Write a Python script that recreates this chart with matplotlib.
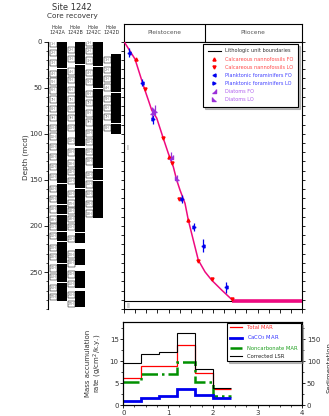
import numpy as np
import matplotlib.pyplot as plt
from matplotlib.patches import Rectangle
from matplotlib.lines import Line2D

# ---- age-depth model (Ma, mcd) ----
model_age = [0, 0.247, 0.456, 0.546, 0.622, 0.735, 0.883, 0.996, 1.108, 1.184,
             1.258, 1.371, 1.445, 1.557, 1.67, 1.82, 1.97, 2.196, 2.42]
model_depth = [0, 19, 50.8, 63.4, 74.3, 83, 105, 121.3, 135.8, 150.2,
               161, 175.5, 193.6, 215.3, 237, 249.7, 258.7, 269.5, 279.6]
unit_boundary = 281.0
epoch_boundary = 1.81

# ---- biostratigraphic datums ----
nanno_fo_age = [0.26, 1.02, 1.445]
nanno_fo_depth = [19.3, 125.5, 193.6]
nanno_lo_age = [0.47, 0.883, 1.085, 1.243, 1.67, 1.97, 2.43]
nanno_lo_depth = [51.9, 105, 131.5, 171.0, 237.5, 258, 279.6]

foram_fo_age = [0.112, 0.41, 1.78, 2.29]
foram_fo_depth = [12.2, 44.7, 221.5, 266.6]
foram_fo_err = [5, 4, 7, 6]
foram_lo_age = [0.66, 1.31, 1.57]
foram_lo_depth = [84.4, 171.0, 200.9]
foram_lo_err = [5, 4.5, 4]

diatom_fo_age = [0.62, 1.056]
diatom_fo_depth = [76.5, 125.0]
diatom_fo_err = [6, 5.5]
diatom_lo_age = [0.70, 1.18]
diatom_lo_depth = [74.3, 148.4]
diatom_lo_err = [5, 4]

# ---- core recovery (mcd) ----
holeA_black = [(0, 29), (29.8, 153), (154, 176), (177, 187), (188, 205),
               (206, 216), (217, 240), (241, 261), (262, 281.5)]
holeA_first = 1
holeA_centers = [2.5, 12.7, 23.5, 35, 43.5, 53, 63, 73, 83, 94, 103, 114, 125,
                 136, 147, 160, 171, 182, 193, 201, 211, 224, 234, 246, 255, 267, 277]
holeB_black = [(0, 24), (25, 113), (115, 159), (160, 207), (208, 218.5),
               (225, 242), (249, 267), (271, 288)]
holeB_first = 2
holeB_centers = [9, 19, 32.6, 42, 52.5, 63, 73, 83, 94, 107.6, 120.3, 132.3, 141.3,
                 151, 165.6, 175.7, 183.7, 192.8, 201, 214.5, 231, 240.6, 252.5,
                 263, 274.5, 284.5]
holeC_black = [(0, 27), (28, 50), (51, 137), (138, 150), (151, 191)]
holeC_first = 1
holeC_centers = [2, 10.5, 20.6, 34.4, 44, 57, 67, 78, 87.7, 99.7, 108.7, 120, 130,
                 144.6, 155, 165.6, 176, 186.6]
holeD_black = [(13.4, 55), (56, 88), (89, 100)]
holeD_first = 1
holeD_centers = [20, 30.8, 40.6, 50, 62, 72, 81.5, 94]
hole_names = ['1242A', '1242B', '1242C', '1242D']

# ---- mass accumulation rates ----
bin_edges = [0, 0.4, 0.8, 1.2, 1.6, 2.0, 2.4]
total_mar = [6.2, 8.8, 9.0, 13.6, 7.4, 3.7]
caco3_mar = [0.9, 1.7, 2.0, 3.6, 2.2, 1.7]
noncarb_mar = [5.2, 7.0, 7.0, 9.8, 5.3, 2.0]
corrected_lsr = [96, 117, 120, 164, 83, 39]

MAG = '#ee0a80'
RED = '#ff0000'
BLUE = '#0000ee'
PURP = '#9b30d9'
TXT = '#333333'

W, H = 329, 416
fig = plt.figure(figsize=(W / 100, H / 100), dpi=100)


def px(x0, y0, x1, y1):
    return [x0 / W, 1 - y1 / H, (x1 - x0) / W, (y1 - y0) / H]


plt.rcParams['font.family'] = 'DejaVu Sans'

# ---- core recovery panel ----
axc = fig.add_axes(px(48, 41.5, 124, 309))
axc.set_xlim(0, 76)
axc.set_ylim(290, 0)
for s in ['top', 'right', 'bottom']:
    axc.spines[s].set_visible(False)
axc.spines['left'].set_linewidth(0.8)
axc.set_xticks([])
axc.set_yticks(np.arange(0, 251, 50))
axc.set_yticks(np.arange(0, 291, 10), minor=True)
axc.tick_params(axis='y', which='major', direction='out', length=3, width=0.6,
                labelsize=5, labelcolor=TXT, pad=1)
axc.tick_params(axis='y', which='minor', direction='out', length=1.5, width=0.5)

holes = [(holeA_black, holeA_first, holeA_centers),
         (holeB_black, holeB_first, holeB_centers),
         (holeC_black, holeC_first, holeC_centers),
         (holeD_black, holeD_first, holeD_centers)]
col_left = [1, 19, 37, 55]
for (black, first, centers), x0, name in zip(holes, col_left, hole_names):
    for top, bot in black:
        axc.add_patch(Rectangle((x0 + 8, top), 9.5, bot - top, color='k', lw=0))
    for i, c in enumerate(centers):
        axc.add_patch(Rectangle((x0 + 0.5, c - 3.4), 7.5, 6.8, facecolor='white',
                                edgecolor='k', lw=0.35))
        axc.text(x0 + 4.2, c, f'{first + i}H', fontsize=2.4, color='#777',
                 ha='center', va='center')
    fig.text((48 + x0 + 8.5) / W, 1 - 30 / H, 'Hole\n' + name, fontsize=3.5,
             color=TXT, ha='center', va='center', linespacing=1.0)

fig.text(72 / W, 1 - 7 / H, 'Site 1242', fontsize=6, color=TXT, ha='center', va='center')
fig.text(72 / W, 1 - 16 / H, 'Core recovery', fontsize=5.2, color=TXT, ha='center', va='center')
fig.text(26 / W, 1 - 157 / H, 'Depth (mcd)', fontsize=5.2, color=TXT, rotation=90,
         ha='center', va='center')

# ---- epoch header ----
axh = fig.add_axes(px(124, 24, 302, 41.5))
axh.set_xlim(0, 4)
axh.set_ylim(0, 1)
axh.set_xticks([])
axh.set_yticks([])
for s in axh.spines.values():
    s.set_linewidth(0.8)
axh.axvline(epoch_boundary, color='k', lw=0.8)
axh.text(epoch_boundary / 2, 0.5, 'Pleistocene', fontsize=4.2, color='#555',
         ha='center', va='center')
axh.text((epoch_boundary + 4) / 2, 0.5, 'Pliocene', fontsize=4.2, color='#555',
         ha='center', va='center')

# ---- age-depth panel ----
ax = fig.add_axes(px(124, 41.5, 302, 309))
ax.set_xlim(0, 4)
ax.set_ylim(290, 0)
for s in ax.spines.values():
    s.set_linewidth(0.8)
ax.set_xticks(np.arange(0, 4.01, 0.25))
ax.set_xticklabels([])
ax.set_yticks(np.arange(0, 291, 10))
ax.set_yticklabels([])
ax.tick_params(axis='x', direction='out', length=3, width=0.6)
ax.tick_params(axis='y', direction='out', length=2.5, width=0.6, left=True, right=True)

ax.plot([0, 4], [unit_boundary, unit_boundary], color='k', lw=0.8, zorder=2)
ax.plot(model_age, model_depth, color=MAG, lw=1.1, zorder=3)
ax.plot([model_age[-1], 4], [281.6, 281.6], color=MAG, lw=2.6,
        solid_capstyle='butt', zorder=3)
ax.text(0.08, 116, 'I', fontsize=5, color='#888', ha='center', va='center')
ax.text(0.1, 286.5, 'II', fontsize=5, color='#888', ha='center', va='center')

ax.errorbar(foram_fo_age, foram_fo_depth, yerr=foram_fo_err, fmt='none',
            ecolor=BLUE, elinewidth=0.9, capsize=0, zorder=4)
ax.errorbar(foram_lo_age, foram_lo_depth, yerr=foram_lo_err, fmt='none',
            ecolor=BLUE, elinewidth=0.9, capsize=0, zorder=4)
ax.errorbar(diatom_fo_age, diatom_fo_depth, yerr=diatom_fo_err, fmt='none',
            ecolor=PURP, elinewidth=0.9, capsize=0, zorder=4)
ax.errorbar(diatom_lo_age, diatom_lo_depth, yerr=diatom_lo_err, fmt='none',
            ecolor=PURP, elinewidth=0.9, capsize=0, zorder=4)

m_dfo = [(1, 1), (1, -1), (-1, -1)]
m_dlo = [(-1, 1), (-1, -1), (1, -1)]
ms = 2.2
ax.plot(nanno_fo_age, nanno_fo_depth, ls='none', marker='^', ms=ms, color=RED, zorder=5)
ax.plot(nanno_lo_age, nanno_lo_depth, ls='none', marker='v', ms=ms, color=RED, zorder=5)
ax.plot(foram_fo_age, foram_fo_depth, ls='none', marker='<', ms=ms, color=BLUE, zorder=5)
ax.plot(foram_lo_age, foram_lo_depth, ls='none', marker='>', ms=ms, color=BLUE, zorder=5)
ax.plot(diatom_fo_age, diatom_fo_depth, ls='none', marker=m_dfo, ms=ms, color=PURP, zorder=5)
ax.plot(diatom_lo_age, diatom_lo_depth, ls='none', marker=m_dlo, ms=ms, color=PURP, zorder=5)

handles = [
    Line2D([], [], color='k', lw=0.8),
    Line2D([], [], ls='none', marker='^', ms=ms, color=RED),
    Line2D([], [], ls='none', marker='v', ms=ms, color=RED),
    Line2D([], [], ls='none', marker='<', ms=ms, color=BLUE),
    Line2D([], [], ls='none', marker='>', ms=ms, color=BLUE),
    Line2D([], [], ls='none', marker=m_dfo, ms=ms, color=PURP),
    Line2D([], [], ls='none', marker=m_dlo, ms=ms, color=PURP),
]
labels = ['Lithologic unit boundaries', 'Calcareous nannofossils FO',
          'Calcareous nannofossils LO', 'Planktonic foraminifers FO',
          'Planktonic foraminifers LO', 'Diatoms FO', 'Diatoms LO']
lcol = ['#333333', '#ff4a4a', '#ff4a4a', '#4040ff', '#4040ff', '#b060ee', '#b060ee']
leg = ax.legend(handles, labels, loc='upper right', bbox_to_anchor=(0.978, 0.991),
                borderaxespad=0, prop={'size': 3.6}, labelcolor=lcol, handlelength=2.6,
                frameon=True, fancybox=False, edgecolor='k', framealpha=1,
                shadow={'ox': 1.5, 'oy': -1.5, 'color': '0.5'},
                borderpad=0.9, labelspacing=0.62, handletextpad=0.9)
leg.get_frame().set_linewidth(0.8)

# ---- MAR panel ----
axm = fig.add_axes(px(123.3, 321.7, 302.3, 405))
axr = axm.twinx()
axm.set_xlim(0, 4)
axm.set_ylim(0, 19)
axr.set_ylim(0, 190)
axr.stairs(corrected_lsr, bin_edges, baseline=None, color='k', lw=0.8)
axm.stairs(total_mar, bin_edges, baseline=None, color=RED, lw=0.9)
axm.stairs(noncarb_mar, bin_edges, baseline=None, color='#009000', lw=1.8, ls='-.')
axm.stairs(caco3_mar, bin_edges, baseline=None, color=BLUE, lw=2.0)
axm.set_xticks(range(5))
axm.set_xticks(np.arange(0, 4.01, 0.25), minor=True)
axm.set_yticks([0, 5, 10, 15])
axm.set_yticks(np.arange(0, 19, 2.5), minor=True)
axr.set_yticks([0, 50, 100, 150])
axr.set_yticks(np.arange(0, 190, 25), minor=True)
for a in (axm, axr):
    a.tick_params(which='major', direction='out', length=2.5, width=0.6,
                  labelsize=5, labelcolor=TXT, pad=0.8)
    a.tick_params(which='minor', direction='out', length=1.3, width=0.5)
    for s in a.spines.values():
        s.set_linewidth(0.8)
axm.set_xlabel('Age (Ma)', fontsize=5.5, color=TXT)
axm.xaxis.set_label_coords(0.5, -0.155)
axm.set_ylabel('Mass accumulation\nrate (g/cm$^2$/k.y.)', fontsize=5, color=TXT,
               linespacing=1.1)
axm.yaxis.set_label_coords(-0.108, 0.5)
axr.set_ylabel('Sedimentation\nrate (m/m.y.)', fontsize=5, color=TXT, linespacing=1.1)
axr.yaxis.set_label_coords(1.135, 0.45)

h2 = [Line2D([], [], color=RED, lw=0.9),
      Line2D([], [], color=BLUE, lw=2.0),
      Line2D([], [], color='#009000', lw=1.8, ls='-.'),
      Line2D([], [], color='k', lw=0.8)]
l2 = ['Total MAR', 'CaCO$_3$ MAR', 'Noncarbonate MAR', 'Corrected LSR']
leg2 = axr.legend(h2, l2, loc='upper right', bbox_to_anchor=(0.991, 0.988),
                  borderaxespad=0, prop={'size': 3.8},
                  labelcolor=['#ff3030', '#3030ff', '#20a020', '#222222'],
                  handlelength=2.3, frameon=True, fancybox=False, edgecolor='k',
                  framealpha=1, shadow={'ox': 1.5, 'oy': -1.5, 'color': '0.5'},
                  borderpad=0.5, labelspacing=0.6, handletextpad=1.0)
leg2.get_frame().set_linewidth(0.8)

fig.savefig('out.png', dpi=100)
